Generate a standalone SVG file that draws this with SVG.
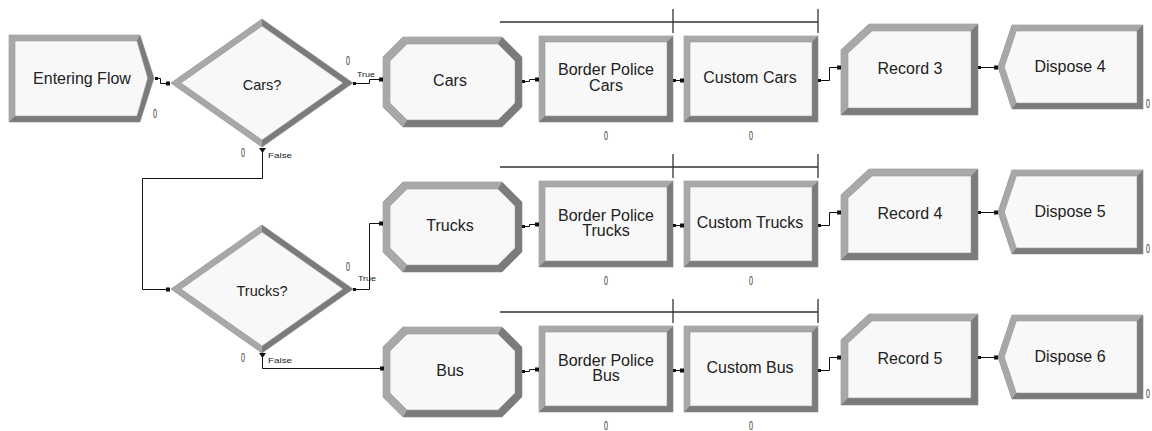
<svg xmlns="http://www.w3.org/2000/svg" width="1152" height="431" viewBox="0 0 1152 431">
<style>
.dk{fill:#7b7b7b;stroke:#8a8a8a;stroke-width:0.6}
.lt{fill:#a8a8a8}
.in{fill:#f8f8f8;stroke:#9a9a9a;stroke-width:0.6}
.lbl{font-family:"Liberation Sans",Arial,sans-serif;font-size:16px;fill:#222;text-anchor:middle}
.dl{font-family:"Liberation Sans",Arial,sans-serif;font-size:14.5px;fill:#222;text-anchor:middle}
.cnt{font-family:"Liberation Sans",Arial,sans-serif;font-size:12px;fill:#555;stroke:#555;stroke-width:0.2;text-anchor:middle}
.tf{font-family:"Liberation Sans",Arial,sans-serif;font-size:7.5px;fill:#222}
.conn path{fill:none;stroke:#111;stroke-width:1}
.conn rect,.conn polygon{fill:#111}
.q path{fill:none;stroke:#333;stroke-width:1.3}
</style>
<defs>
<g id="proc">
<polygon class="dk" points="20,0 119,0 139,20 139,70 119,90 20,90 0,70 0,20"/>
<polygon class="lt" points="20,90 0,70 0,20 20,0 119,0 115,7 24,7 7,24 7,66 24,83"/>
<polygon class="in" points="24,7 115,7 132,24 132,66 115,83 24,83 7,66 7,24"/>
</g>
<g id="box">
<rect class="dk" x="0" y="0" width="134" height="86"/>
<polygon class="lt" points="0,0 134,0 128,6 6,6 6,80 0,86"/>
<rect class="in" x="6" y="6" width="122" height="74"/>
</g>
<g id="rec">
<polygon class="dk" points="0,26 28,0 137,0 137,91 0,91"/>
<polygon class="lt" points="0,91 0,26 28,0 137,0 130,7 31,7 7,29 7,84"/>
<polygon class="in" points="7,29 31,7 130,7 130,84 7,84"/>
</g>
<g id="disp">
<polygon class="dk" points="14,0 145,0 145,84 14,84 0,42"/>
<polygon class="lt" points="14,84 0,42 14,0 145,0 139,6 18.3,6 6.3,42 18.3,78"/>
<polygon class="in" points="18.3,6 139,6 139,78 18.3,78 6.3,42"/>
</g>
<g id="dia">
<polygon class="dk" points="0,0 91,-64 182,0 91,64"/>
<polygon class="lt" points="91,-64 0,0 91,64 91,57 10,0 91,-57"/>
<polygon class="in" points="10,0 91,-57 172,0 91,57"/>
</g>
</defs>
<rect width="1152" height="431" fill="#ffffff"/>

<g class="q" id="queues">
<path d="M500,22 H818 M673,9 V33 M818,9 V33"/>
<path d="M500,167 H818 M673,154 V178 M818,154 V178"/>
<path d="M500,312 H818 M673,299 V323 M818,299 V323"/>
</g>

<g id="entering-flow">
<polygon class="dk" points="9,35 140,35 154,78 140,122 9,122"/>
<polygon class="lt" points="9,35 140,35 137,41 15,41 15,116 9,122"/>
<polygon class="in" points="15,41 137,41 147.7,78 137,116 15,116"/>
<text class="lbl" x="82" y="84">Entering Flow</text>
<text class="cnt" x="155" y="118" textLength="4" lengthAdjust="spacingAndGlyphs">0</text>
</g>

<g id="cars-decide">
<use href="#dia" x="171" y="83"/>
<text class="dl" x="262" y="90">Cars?</text>
<text class="cnt" x="348" y="65" textLength="4" lengthAdjust="spacingAndGlyphs">0</text>
<text class="cnt" x="243" y="157" textLength="4" lengthAdjust="spacingAndGlyphs">0</text>
</g>

<g id="trucks-decide">
<use href="#dia" x="171" y="289"/>
<text class="dl" x="262" y="296">Trucks?</text>
<text class="cnt" x="348" y="271" textLength="4" lengthAdjust="spacingAndGlyphs">0</text>
<text class="cnt" x="243" y="362" textLength="4" lengthAdjust="spacingAndGlyphs">0</text>
</g>

<g id="cars">
<use href="#proc" x="383" y="37"/>
<text class="lbl" x="450" y="86">Cars</text>
</g>
<g id="trucks">
<use href="#proc" x="383" y="182"/>
<text class="lbl" x="450" y="231">Trucks</text>
</g>
<g id="bus">
<use href="#proc" x="383" y="327"/>
<text class="lbl" x="450" y="376">Bus</text>
</g>

<g id="border-police-cars">
<use href="#box" x="539" y="36"/>
<text class="lbl" x="606" y="75">Border Police</text>
<text class="lbl" x="606" y="91">Cars</text>
<text class="cnt" x="606" y="140" textLength="4" lengthAdjust="spacingAndGlyphs">0</text>
</g>
<g id="custom-cars">
<use href="#box" x="684" y="36"/>
<text class="lbl" x="750" y="83">Custom Cars</text>
<text class="cnt" x="751" y="140" textLength="4" lengthAdjust="spacingAndGlyphs">0</text>
</g>
<g id="border-police-trucks">
<use href="#box" x="539" y="181"/>
<text class="lbl" x="606" y="221">Border Police</text>
<text class="lbl" x="606" y="236">Trucks</text>
<text class="cnt" x="606" y="285" textLength="4" lengthAdjust="spacingAndGlyphs">0</text>
</g>
<g id="custom-trucks">
<use href="#box" x="684" y="181"/>
<text class="lbl" x="750" y="228">Custom Trucks</text>
<text class="cnt" x="751" y="285" textLength="4" lengthAdjust="spacingAndGlyphs">0</text>
</g>
<g id="border-police-bus">
<use href="#box" x="539" y="326"/>
<text class="lbl" x="606" y="366">Border Police</text>
<text class="lbl" x="606" y="381">Bus</text>
<text class="cnt" x="606" y="430" textLength="4" lengthAdjust="spacingAndGlyphs">0</text>
</g>
<g id="custom-bus">
<use href="#box" x="684" y="326"/>
<text class="lbl" x="750" y="373">Custom Bus</text>
<text class="cnt" x="751" y="430" textLength="4" lengthAdjust="spacingAndGlyphs">0</text>
</g>

<g id="record-3">
<use href="#rec" x="841" y="24"/>
<text class="lbl" x="910" y="74">Record 3</text>
</g>
<g id="record-4">
<use href="#rec" x="841" y="169"/>
<text class="lbl" x="910" y="219">Record 4</text>
</g>
<g id="record-5">
<use href="#rec" x="841" y="314"/>
<text class="lbl" x="910" y="364">Record 5</text>
</g>

<g id="dispose-4">
<use href="#disp" x="998" y="25"/>
<text class="lbl" x="1070" y="72">Dispose 4</text>
<text class="cnt" x="1148" y="108" textLength="4" lengthAdjust="spacingAndGlyphs">0</text>
</g>
<g id="dispose-5">
<use href="#disp" x="998" y="170"/>
<text class="lbl" x="1070" y="217">Dispose 5</text>
<text class="cnt" x="1148" y="253" textLength="4" lengthAdjust="spacingAndGlyphs">0</text>
</g>
<g id="dispose-6">
<use href="#disp" x="998" y="315"/>
<text class="lbl" x="1070" y="362">Dispose 6</text>
<text class="cnt" x="1148" y="398" textLength="4" lengthAdjust="spacingAndGlyphs">0</text>
</g>

<g id="connectors" class="conn">
<path d="M157,78.5 H160.5 V83.5 H168"/>
<rect x="155" y="77" width="3" height="3"/><rect x="166" y="81.5" width="4" height="4"/>

<path d="M354,83.5 H369.5 V79.5 H381"/>
<rect x="353" y="82" width="3" height="3"/><rect x="379" y="77.5" width="4" height="4"/>
<text class="tf" x="357" y="77" textLength="18" lengthAdjust="spacingAndGlyphs">True</text>

<polygon points="259,148 266,148 262.5,153"/>
<path d="M262.5,150 V178.5 H142.5 V289.5 H168"/>
<rect x="166" y="287.5" width="4" height="4"/>
<text class="tf" x="268" y="158" textLength="24" lengthAdjust="spacingAndGlyphs">False</text>

<path d="M354,289.5 H369.5 V223.5 H381"/>
<rect x="353" y="288" width="3" height="3"/><rect x="379" y="221.5" width="4" height="4"/>
<text class="tf" x="358" y="281" textLength="18" lengthAdjust="spacingAndGlyphs">True</text>

<polygon points="259,353 266,353 262.5,358"/>
<path d="M262.5,355 V368.5 H382"/>
<rect x="380" y="366.5" width="4" height="4"/>
<text class="tf" x="268" y="363" textLength="24" lengthAdjust="spacingAndGlyphs">False</text>

<path d="M523,81.5 H529.5 V79.5 H538"/>
<rect x="522" y="80" width="3" height="3"/><rect x="535" y="77.5" width="4" height="4"/>
<path d="M674,80.5 H682"/>
<rect x="673" y="79" width="3" height="3"/><rect x="680" y="78.5" width="4" height="4"/>
<path d="M819,80.5 H829.5 V67.5 H839"/>
<rect x="818" y="79" width="3" height="3"/><rect x="837" y="65.5" width="4" height="4"/>
<path d="M979,67.5 H997"/>
<rect x="978" y="66" width="3" height="3"/><rect x="994" y="65.5" width="4" height="4"/>

<path d="M523,226.5 H529.5 V224.5 H538"/>
<rect x="522" y="225" width="3" height="3"/><rect x="535" y="222.5" width="4" height="4"/>
<path d="M674,225.5 H682"/>
<rect x="673" y="224" width="3" height="3"/><rect x="680" y="223.5" width="4" height="4"/>
<path d="M819,225.5 H829.5 V212.5 H839"/>
<rect x="818" y="224" width="3" height="3"/><rect x="837" y="210.5" width="4" height="4"/>
<path d="M979,212.5 H997"/>
<rect x="978" y="211" width="3" height="3"/><rect x="994" y="210.5" width="4" height="4"/>

<path d="M523,371.5 H529.5 V369.5 H538"/>
<rect x="522" y="370" width="3" height="3"/><rect x="535" y="367.5" width="4" height="4"/>
<path d="M674,370.5 H682"/>
<rect x="673" y="369" width="3" height="3"/><rect x="680" y="368.5" width="4" height="4"/>
<path d="M819,370.5 H829.5 V357.5 H839"/>
<rect x="818" y="369" width="3" height="3"/><rect x="837" y="355.5" width="4" height="4"/>
<path d="M979,357.5 H997"/>
<rect x="978" y="356" width="3" height="3"/><rect x="994" y="355.5" width="4" height="4"/>
</g>
</svg>
